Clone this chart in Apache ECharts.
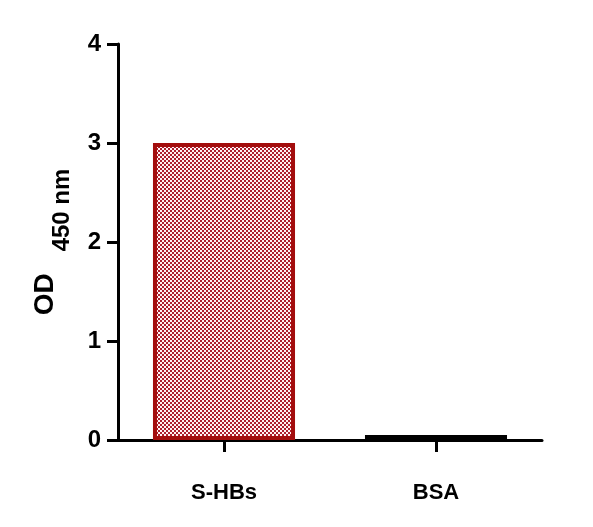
<!DOCTYPE html>
<html>
<head>
<meta charset="utf-8">
<script src="https://cdn.jsdelivr.net/npm/echarts@6/dist/echarts.min.js"></script>
<style>
  html, body { margin: 0; padding: 0; background: #fff; }
  #main { width: 593px; height: 527px; }
</style>
</head>
<body>
<div id="main"></div>
<script>
var categories = ['S-HBs', 'BSA'];
var values = [3.0, 0.05];
var yTicks = [0, 1, 2, 3, 4];

// checkered fill for the first bar
function makePattern() {
    var c = document.createElement('canvas');
    c.width = 4;
    c.height = 4;
    var ctx = c.getContext('2d');
    ctx.fillStyle = '#fff2f2';
    ctx.fillRect(0, 0, 4, 4);
    ctx.fillStyle = '#ad1f2e';
    ctx.fillRect(0, 0, 2, 2);
    ctx.fillRect(2, 2, 2, 2);
    return c;
}

var chart = echarts.init(document.getElementById('main'), null, { renderer: 'canvas' });

var barStyles = [
    { color: { image: makePattern(), repeat: 'repeat' }, borderColor: '#a30d0d', borderWidth: 4 },
    { color: '#000000', borderColor: '#000000', borderWidth: 4 }
];

var option = {
    animation: false,
    grid: { left: 118, right: 51, top: 44, bottom: 87 },
    xAxis: {
        type: 'category',
        data: categories,
        axisLine: { lineStyle: { color: '#000', width: 3 } },
        axisTick: { show: true, alignWithLabel: true, length: 12, lineStyle: { color: '#000', width: 3 } },
        axisLabel: {
            margin: 42,
            color: '#000',
            fontSize: 22,
            fontWeight: 'bold',
            fontFamily: 'Liberation Sans'
        }
    },
    yAxis: {
        type: 'value',
        min: yTicks[0],
        max: yTicks[yTicks.length - 1],
        interval: 1,
        splitLine: { show: false },
        axisLine: { show: true, lineStyle: { color: '#000', width: 3 } },
        axisTick: { show: true, length: 11, lineStyle: { color: '#000', width: 3 } },
        axisLabel: {
            margin: 17,
            color: '#000',
            fontSize: 24,
            fontWeight: 'bold',
            fontFamily: 'Liberation Sans'
        },
        name: '{od|OD}{sub|450 nm}',
        nameLocation: 'middle',
        nameGap: 44,
        nameTextStyle: {
            rich: {
                od: { fontSize: 28, fontWeight: 'bold', color: '#000', fontFamily: 'Liberation Sans',
                      lineHeight: 30, padding: [0, 22, 17, 0] },
                sub: { fontSize: 24, fontWeight: 'bold', color: '#000', fontFamily: 'Liberation Sans',
                       lineHeight: 27, padding: [17, 0, 0, 0] }
            }
        }
    },
    series: [{
        type: 'bar',
        barWidth: '67%',
        data: values.map(function (v, i) {
            return { value: v, itemStyle: barStyles[i] };
        })
    }]
};

chart.setOption(option);
</script>
</body>
</html>
